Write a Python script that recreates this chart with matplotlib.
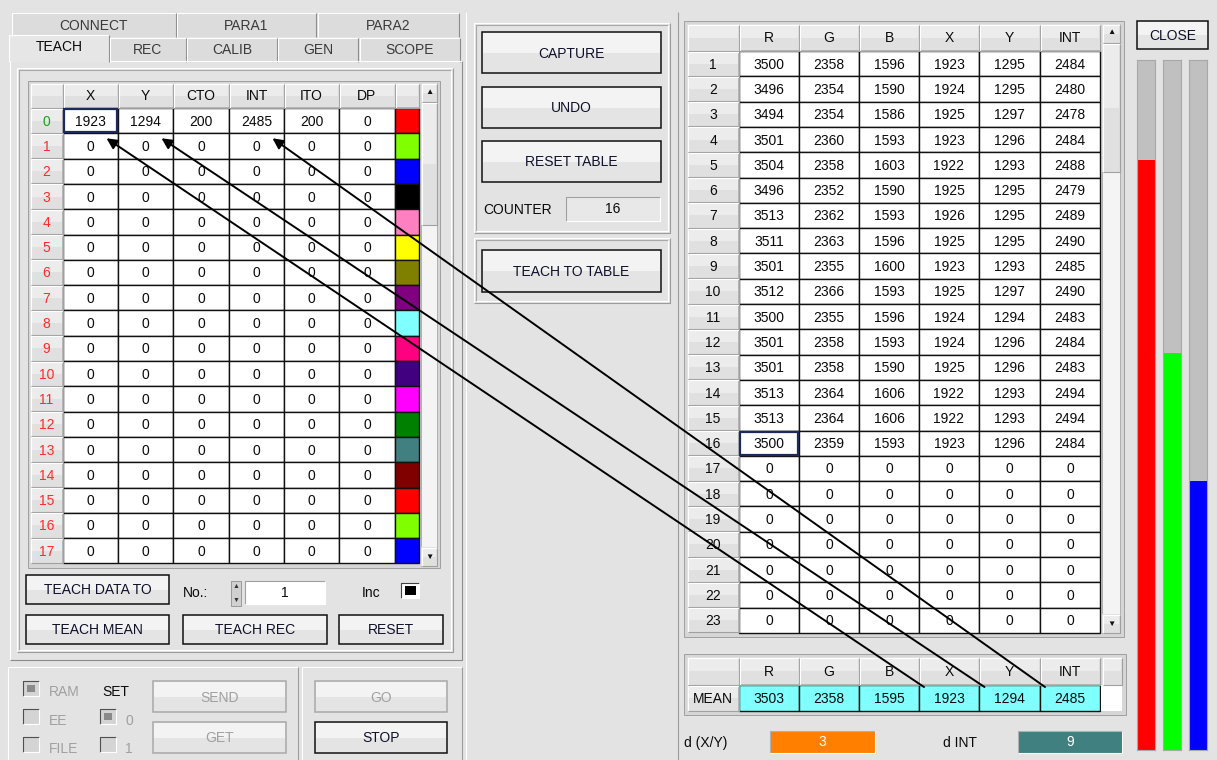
import matplotlib
matplotlib.use("Agg")
import matplotlib.pyplot as plt
from matplotlib.patches import Rectangle

plt.rcParams['font.family'] = ['Liberation Sans', 'DejaVu Sans']

# ---- data ----
top_tabs = ['CONNECT', 'PARA1', 'PARA2']
bottom_tabs = ['TEACH', 'REC', 'CALIB', 'GEN', 'SCOPE']

teach_cols = ['X', 'Y', 'CTO', 'INT', 'ITO', 'DP']
teach_row0 = [1923, 1294, 200, 2485, 200, 0]
teach_rows = 18
teach_colors = ['#ff0000', '#80ff00', '#0000ff', '#000000', '#ff80c0', '#ffff00',
                '#808000', '#800080', '#80ffff', '#ff0080', '#400080', '#ff00ff',
                '#008000', '#408080', '#800000', '#ff0000', '#80ff00', '#0000ff']

rec_cols = ['R', 'G', 'B', 'X', 'Y', 'INT']
rec_R = [3500, 3496, 3494, 3501, 3504, 3496, 3513, 3511, 3501, 3512, 3500, 3501, 3501, 3513, 3513, 3500]
rec_G = [2358, 2354, 2354, 2360, 2358, 2352, 2362, 2363, 2355, 2366, 2355, 2358, 2358, 2364, 2364, 2359]
rec_B = [1596, 1590, 1586, 1593, 1603, 1590, 1593, 1596, 1600, 1593, 1596, 1593, 1590, 1606, 1606, 1593]
rec_X = [1923, 1924, 1925, 1923, 1922, 1925, 1926, 1925, 1923, 1925, 1924, 1924, 1925, 1922, 1922, 1923]
rec_Y = [1295, 1295, 1297, 1296, 1293, 1295, 1295, 1295, 1293, 1297, 1294, 1296, 1296, 1293, 1293, 1296]
rec_INT = [2484, 2480, 2478, 2484, 2488, 2479, 2489, 2490, 2485, 2490, 2483, 2484, 2483, 2494, 2494, 2484]
rec_rows = 23

mean_vals = [3503, 2358, 1595, 1923, 1294, 2485]
d_xy = 3
d_int = 9
counter = 16
teach_no = 1
full_scale = 4095

BG = '#e3e3e3'
W, H = 1217, 760
FS = 10
TXT = '#0a0a0a'

fig = plt.figure(figsize=(W / 100, H / 100), dpi=100)
fig.patch.set_facecolor(BG)
ax = fig.add_axes([0, 0, 1, 1])
ax.set_xlim(0, W)
ax.set_ylim(H, 0)
ax.axis('off')


def rect(x0, y0, x1, y1, fc, ec='none', lw=0.0, z=1):
    ax.add_patch(Rectangle((x0, y0), x1 - x0, y1 - y0, facecolor=fc,
                           edgecolor=ec, linewidth=lw, zorder=z))


def line(xs, ys, c, lw=0.8, z=2):
    ax.plot(xs, ys, color=c, lw=lw, zorder=z, solid_capstyle='butt')


def text(x, y, s, c=TXT, fs=FS, ha='center', z=5):
    ax.text(x, y, s, color=c, fontsize=fs, ha=ha, va='center', zorder=z)


def bevel(x0, y0, x1, y1, light='#ffffff', dark='#9a9a9a', z=2):
    line([x0, x0, x1], [y1, y0, y0], light, z=z)
    line([x0, x1, x1], [y1, y1, y0], dark, z=z)


def panel(x0, y0, x1, y1):
    bevel(x0, y0, x1, y1, '#ffffff', '#9c9c9c')
    bevel(x0 + 2, y0 + 2, x1 - 2, y1 - 2, '#a8a8a8', '#ffffff')


def button(x0, y0, x1, y1, label, enabled=True, fs=FS):
    rect(x0, y0, x1, y1, '#e4e4e4', z=2)
    rect(x0 + 1, y0 + 1, x1 - 1, (y0 + y1) / 2, '#f3f3f3', z=2)
    ec = '#111111' if enabled else '#a9a9a9'
    rect(x0, y0, x1, y1, 'none', ec, 1.1, z=3)
    text((x0 + x1) / 2, (y0 + y1) / 2 + 1, label, '#10102a' if enabled else '#a0a0a0', fs)


def head_cell(x0, y0, x1, y1, label='', c=TXT):
    rect(x0, y0, x1, y1, '#e0e0e0', z=2)
    rect(x0 + 1, y0 + 1, x1 - 1, (y0 + y1) / 2, '#ececec', z=2)
    bevel(x0 + 0.5, y0 + 0.5, x1 - 0.5, y1 - 0.5, '#ffffff', '#a0a0a0', z=3)
    if label != '':
        text((x0 + x1) / 2, (y0 + y1) / 2 + 1, label, c)


def data_cell(x0, y0, x1, y1, label, fc='white'):
    rect(x0, y0, x1, y1, fc, '#111111', 1.0, z=2)
    text((x0 + x1) / 2, (y0 + y1) / 2 + 1, label)


def scrollbar(x0, y0, x1, y1, thumb_end):
    rect(x0, y0, x1, y1, '#f4f4f4', '#b0b0b0', 0.7, z=2)
    head_cell(x0, y0, x1, y0 + 19)
    text((x0 + x1) / 2, y0 + 9, '▲', '#111111', 6)
    head_cell(x0, y0 + 19, x1, thumb_end)
    head_cell(x0, y1 - 19, x1, y1)
    text((x0 + x1) / 2, y1 - 9, '▼', '#111111', 6)


# ---- tabs ----
tab1_x = [(12, 176), (177, 316), (318, 459)]
for (x0, x1), name in zip(tab1_x, top_tabs):
    rect(x0, 13, x1, 37, '#dcdcdc', z=1)
    line([x0, x0, x1], [37, 13, 13], '#ffffff')
    line([x1, x1], [13, 37], '#8c8c8c')
    text((x0 + x1) / 2, 26, name, '#3a3a3a')
tab2_x = [(9, 109), (110, 186), (187, 277), (278, 358), (360, 460)]
for i, ((x0, x1), name) in enumerate(zip(tab2_x, bottom_tabs)):
    top = 35 if i == 0 else 38
    rect(x0, top, x1, 62, '#e6e6e6' if i == 0 else '#dcdcdc', z=1)
    line([x0, x0, x1], [62, top, top], '#ffffff')
    line([x1, x1], [top, 62], '#8c8c8c')
    text((x0 + x1) / 2, top + 12, name, TXT if i == 0 else '#3a3a3a')

# tab page and inner frame
line([10, 10], [61, 660], '#ffffff')
line([110, 462, 462], [61, 61, 660], '#ffffff')
line([462, 462, 10], [61, 660, 660], '#8c8c8c')
panel(17, 68, 453, 652)

# ---- teach table ----
lx = [30, 63, 118, 173, 229, 284, 339, 395, 419]
ty0, trh = 108, 25.3
rect(28, 81, 440, 568, '#d6d6d6', '#a0a0a0', 0.7, z=1)
head_cell(lx[0], 83, lx[1], ty0)
for j, name in enumerate(teach_cols):
    head_cell(lx[j + 1], 83, lx[j + 2], ty0, name)
head_cell(lx[7], 83, lx[8], ty0)
for i in range(teach_rows):
    y0 = ty0 + i * trh
    y1 = y0 + trh
    head_cell(lx[0], y0, lx[1], y1, str(i), '#1aa01a' if i == 0 else '#ff2a2a')
    for j in range(len(teach_cols)):
        v = teach_row0[j] if i == 0 else 0
        data_cell(lx[j + 1], y0, lx[j + 2], y1, str(v))
    rect(lx[7], y0, lx[8], y1, teach_colors[i], '#111111', 1.0, z=2)
rect(lx[1] + 1, ty0 + 1, lx[2] - 1, ty0 + trh - 1, 'none', '#1c2a5c', 1.6, z=4)
scrollbar(421, 83, 437, 566, 225)

# teach controls
button(26, 575, 169, 604, 'TEACH DATA TO')
text(183, 593, 'No.:', ha='left')
rect(231, 581, 241, 606, '#d0d0d0', '#909090', 0.6, z=2)
text(236, 587, '▲', '#333333', 5)
text(236, 600, '▼', '#333333', 5)
rect(245, 581, 325, 604, 'white', z=2)
bevel(245, 581, 325, 604, '#a0a0a0', '#ffffff', z=3)
text(285, 593, str(teach_no))
text(362, 593, 'Inc', ha='left')
rect(401, 583, 419, 598, 'white', z=2)
bevel(401, 583, 419, 598, '#404040', '#ffffff', z=3)
rect(405, 586, 416, 595, '#000000', z=3)
button(26, 615, 169, 644, 'TEACH MEAN')
button(183, 615, 327, 644, 'TEACH REC')
button(339, 615, 443, 644, 'RESET')

# ---- bottom left panels ----
bevel(8, 667, 298, 762, '#ffffff', '#9c9c9c')
bevel(302, 667, 462, 762, '#ffffff', '#9c9c9c')


def checkbox(x, y, filled):
    rect(x, y, x + 16, y + 15, '#d4d4d4', z=2)
    bevel(x, y, x + 16, y + 15, '#505050', '#ffffff', z=3)
    if filled:
        rect(x + 4, y + 4, x + 12, y + 11, '#8a8a8a', z=3)


checkbox(23, 681, True)
text(49, 692, 'RAM', '#a0a0a0', ha='left')
text(102, 692, 'SET', TXT, ha='left')
checkbox(23, 709, False)
text(49, 721, 'EE', '#a0a0a0', ha='left')
checkbox(100, 709, True)
text(125, 721, '0', '#a0a0a0', ha='left')
checkbox(23, 737, False)
text(49, 749, 'FILE', '#a0a0a0', ha='left')
checkbox(100, 737, False)
text(125, 749, '1', '#a0a0a0', ha='left')
button(153, 681, 286, 712, 'SEND', enabled=False)
button(153, 722, 286, 753, 'GET', enabled=False)
button(315, 681, 447, 712, 'GO', enabled=False)
button(315, 722, 447, 753, 'STOP')

# ---- middle column ----
line([466, 466], [12, 760], '#ffffff')
line([678, 678], [12, 760], '#9c9c9c')
panel(474, 23, 670, 233)
button(482, 32, 661, 73, 'CAPTURE')
button(482, 87, 661, 128, 'UNDO')
button(482, 141, 661, 182, 'RESET TABLE')
text(483, 210, 'COUNTER', ha='left')
rect(566, 197, 660, 221, '#e8e8e8', z=2)
bevel(566, 197, 660, 221, '#a0a0a0', '#ffffff', z=3)
text(613, 209, str(counter))
panel(474, 238, 670, 303)
button(482, 250, 661, 292, 'TEACH TO TABLE')

# ---- record table ----
rx = [687, 739, 799, 859, 919, 979, 1040, 1100]
ry0, rrh = 51, 25.3
rect(684, 21, 1124, 637, '#d6d6d6', '#a0a0a0', 0.7, z=1)
head_cell(rx[0], 24, rx[1], ry0)
for j, name in enumerate(rec_cols):
    head_cell(rx[j + 1], 24, rx[j + 2], ry0, name)
rec_data = [rec_R, rec_G, rec_B, rec_X, rec_Y, rec_INT]
for i in range(rec_rows):
    y0 = ry0 + i * rrh
    y1 = y0 + rrh
    head_cell(rx[0], y0, rx[1], y1, str(i + 1))
    for j, col in enumerate(rec_data):
        v = col[i] if i < len(col) else 0
        data_cell(rx[j + 1], y0, rx[j + 2], y1, str(v))
foc = ry0 + (len(rec_R) - 1) * rrh
rect(rx[1] + 1, foc + 1, rx[2] - 1, foc + rrh - 1, 'none', '#1c2a5c', 1.6, z=4)
scrollbar(1102, 24, 1120, 633, 172)

# mean table
rect(684, 654, 1126, 715, '#d6d6d6', '#a0a0a0', 0.7, z=1)
head_cell(rx[0], 657, rx[1], 685)
for j, name in enumerate(rec_cols):
    head_cell(rx[j + 1], 657, rx[j + 2], 685, name)
head_cell(1102, 657, 1122, 685)
head_cell(rx[0], 685, rx[1], 711, 'MEAN')
for j, v in enumerate(mean_vals):
    data_cell(rx[j + 1], 685, rx[j + 2], 711, str(v), fc='#80ffff')
rect(1101, 685, 1122, 711, 'white', z=2)

# deviation indicators
text(684, 743, 'd (X/Y)', ha='left')
rect(770, 731, 875, 753, '#ff8000', z=2)
bevel(770, 731, 875, 753, '#b0b0b0', '#ffffff', z=3)
text(822, 742, str(d_xy), 'white')
text(943, 743, 'd INT', ha='left')
rect(1018, 731, 1122, 753, '#408080', z=2)
bevel(1018, 731, 1122, 753, '#b0b0b0', '#ffffff', z=3)
text(1070, 742, str(d_int), 'white')

# ---- close + level bars ----
button(1137, 21, 1208, 49, 'CLOSE')
bar_x = [1137, 1163, 1189]
bar_colors = ['#ff0000', '#00ff00', '#0000ff']
for bx, bc, v in zip(bar_x, bar_colors, mean_vals[:3]):
    bax = fig.add_axes([bx / W, 1 - 750 / H, 18 / W, 690 / H])
    bax.set_facecolor('#c0c0c0')
    bax.bar([0], [v], width=1.0, color=bc)
    bax.set_xlim(-0.5, 0.5)
    bax.set_ylim(0, full_scale)
    bax.set_xticks([])
    bax.set_yticks([])
    for s in bax.spines.values():
        s.set_color('#a8a8a8')
        s.set_linewidth(0.8)

# ---- arrows from mean X/Y/INT to teach row 1 ----
for src, dst in [(3, 0), (4, 1), (5, 3)]:
    sx = (rx[src + 1] + rx[src + 2]) / 2 - 25
    dx = (lx[dst + 1] + lx[dst + 2]) / 2 + 16
    ax.annotate('', xy=(dx, ty0 + trh + 5), xytext=(sx, 687),
                arrowprops=dict(arrowstyle='-|>', color='black', lw=1.4,
                                mutation_scale=16, shrinkA=0, shrinkB=0),
                zorder=6)

fig.savefig('out.png', dpi=100, facecolor=BG)
